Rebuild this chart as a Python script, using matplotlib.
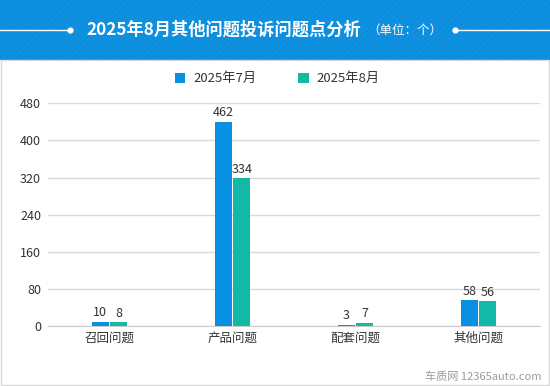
import matplotlib.pyplot as plt
import numpy as np
from matplotlib.patches import Rectangle

plt.rcParams['font.family'] = ['Noto Sans CJK SC', 'DejaVu Sans']

categories = ['召回问题', '产品问题', '配套问题', '其他问题']
series_names = ['2025年7月', '2025年8月']
# labelled values
jul_labels = [10, 462, 3, 58]
aug_labels = [8, 334, 7, 56]
# bar heights as drawn in the picture
jul_heights = [9.5, 440, 2.9, 55]
aug_heights = [7.6, 318, 6.7, 53]
yticks = [0, 80, 160, 240, 320, 400, 480]

blue = '#0A90E2'
teal = '#12B9A7'
header = '#0A8EDD'

fig = plt.figure(figsize=(5.5, 3.86), dpi=100)

# header band
fig.patches.append(Rectangle((0, 1 - 60 / 386), 1, 60 / 386, transform=fig.transFigure,
                             facecolor=header, edgecolor='#1393E0', hatch='//////',
                             linewidth=0, zorder=0))
ty = 1 - 30 / 386
fig.text(86 / 550, ty, '2025年8月其他问题投诉问题点分析', color='white',
         fontsize=12.4, fontweight='bold', ha='left', va='center')
fig.text(367 / 550, ty, '（单位：个）', color='white', fontsize=9,
         ha='left', va='center')
fig.lines.append(plt.Line2D([0, 70 / 550], [ty] * 2, transform=fig.transFigure,
                            color='white', lw=1))
fig.lines.append(plt.Line2D([455 / 550, 1], [ty] * 2, transform=fig.transFigure,
                            color='white', lw=1))
fig.lines.append(plt.Line2D([70 / 550, 455 / 550], [ty] * 2, transform=fig.transFigure,
                            color='white', marker='o', markersize=3.5, lw=0))
# frame around the chart body
fig.patches.append(Rectangle((0.002, 0.003), 0.996, 1 - 60 / 386 - 0.003,
                             transform=fig.transFigure, facecolor='none',
                             edgecolor='#d9d9d9', linewidth=1))

ax = fig.add_axes([48 / 550, 1 - 326 / 386, 492 / 550, 222.7 / 386])
x = np.arange(len(categories))
w = 0.135
b1 = ax.bar(x - w / 2 - 0.008, jul_heights, w, color=blue, label=series_names[0], zorder=3)
b2 = ax.bar(x + w / 2 + 0.008, aug_heights, w, color=teal, label=series_names[1], zorder=3)
for bars, labs in ((b1, jul_labels), (b2, aug_labels)):
    for r, v in zip(bars, labs):
        ax.annotate(str(v), (r.get_x() + r.get_width() / 2, r.get_height()),
                    xytext=(0, 2), textcoords='offset points', ha='center', va='bottom',
                    fontsize=9, color='#333333')

ax.set_xlim(-0.5, len(categories) - 0.5)
ax.set_ylim(0, 480)
ax.set_yticks(yticks)
ax.set_xticks(x)
ax.set_xticklabels(categories)
ax.tick_params(axis='both', length=0, labelsize=9, colors='#333333')
ax.tick_params(axis='y', pad=5)
ax.tick_params(axis='x', pad=4)
ax.grid(axis='y', color='#d9d9d9', lw=1, zorder=0)
for s in ['top', 'right', 'left']:
    ax.spines[s].set_visible(False)
ax.spines['bottom'].set_color('#cccccc')

ax.legend(loc='center', bbox_to_anchor=(0.466, 1.11), ncol=2, frameon=False,
          fontsize=9.5, handlelength=0.8, handleheight=0.8, columnspacing=3.2,
          handletextpad=0.6, labelcolor='#333333')

fig.text(0.985, 0.025, '车质网 12365auto.com', color='#9a9a9a', fontsize=8,
         ha='right', va='center')

fig.savefig('out.png', dpi=100)
